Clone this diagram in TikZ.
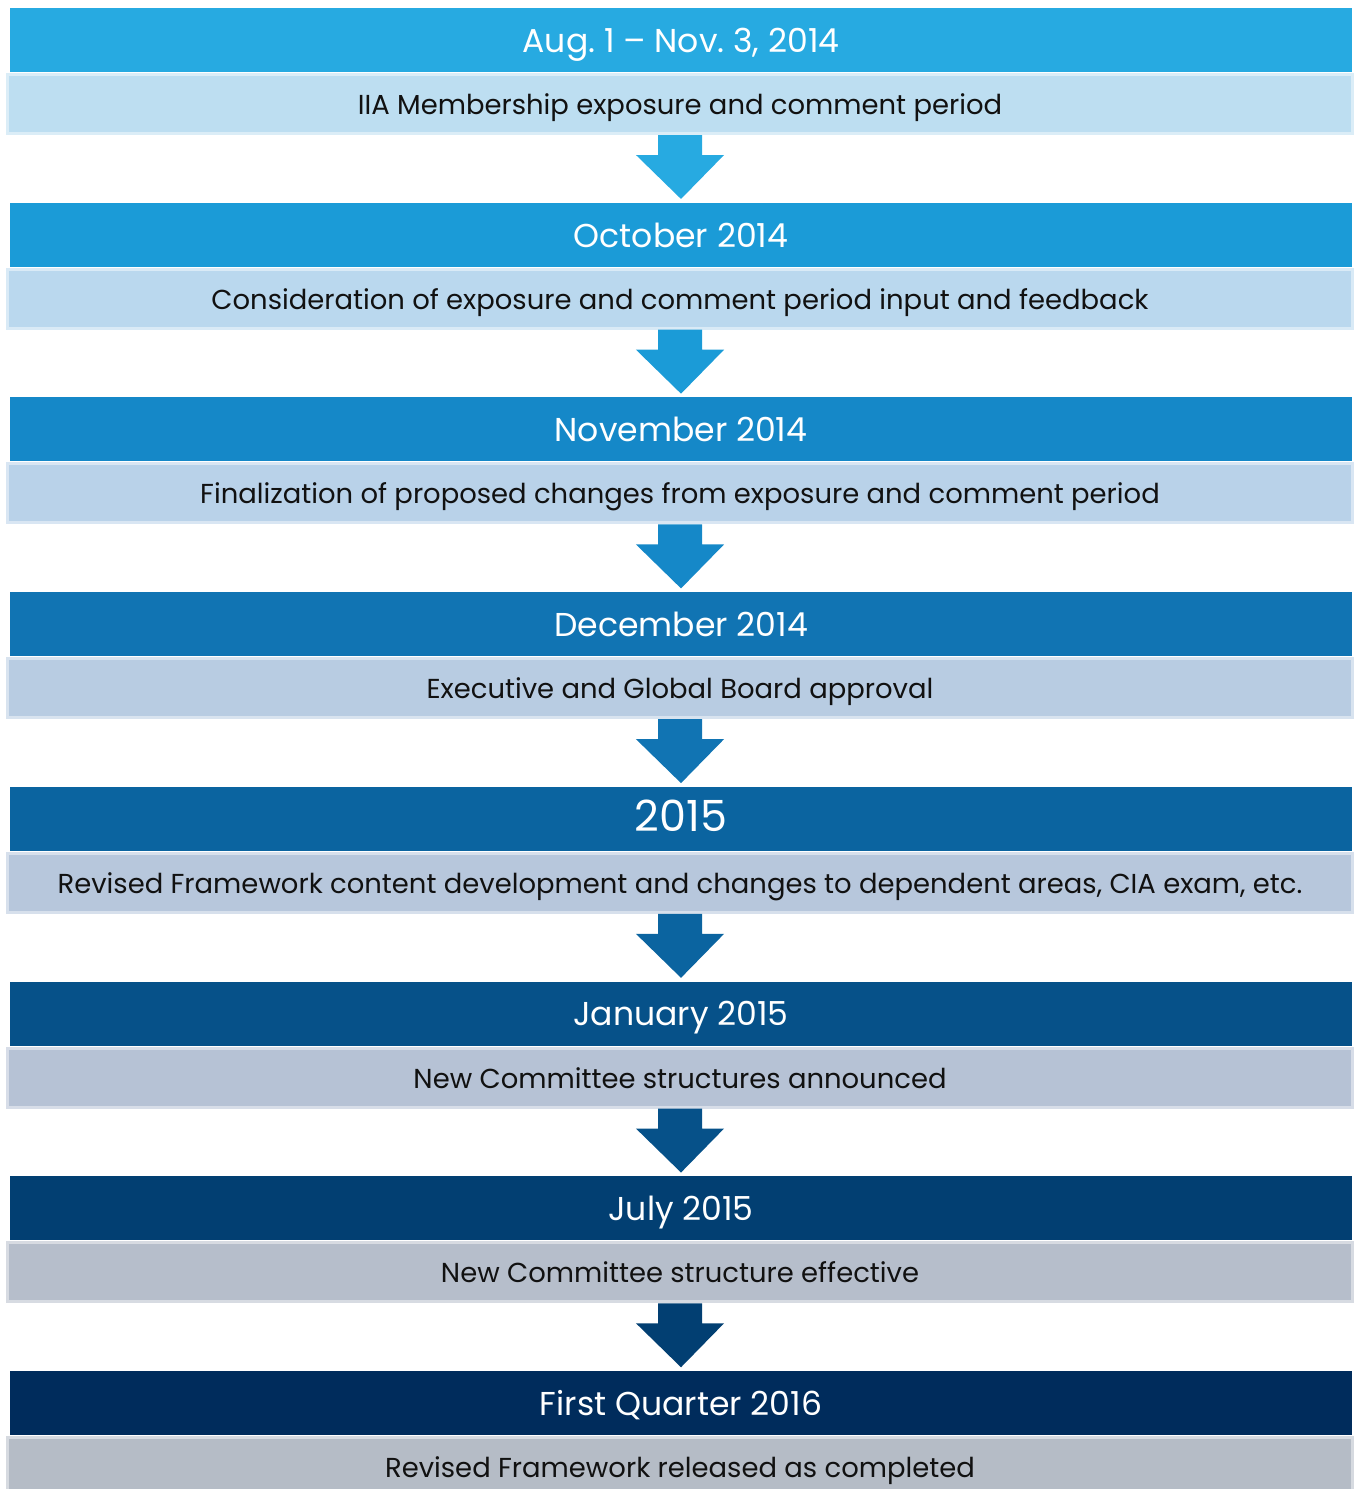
\documentclass[tikz,border=0pt]{standalone}
\usepackage{fontspec}
\setmainfont{Poppins}
\usetikzlibrary{positioning}

\definecolor{hd1}{HTML}{27AAE1}
\definecolor{hd2}{HTML}{1B9BD7}
\definecolor{hd3}{HTML}{1588C8}
\definecolor{hd4}{HTML}{1174B3}
\definecolor{hd5}{HTML}{0B64A0}
\definecolor{hd6}{HTML}{065189}
\definecolor{hd7}{HTML}{023F72}
\definecolor{hd8}{HTML}{002C5C}
\definecolor{bd1}{HTML}{BDDEF1}
\definecolor{bd2}{HTML}{BAD8EE}
\definecolor{bd3}{HTML}{B9D2E9}
\definecolor{bd4}{HTML}{B8CCE2}
\definecolor{bd5}{HTML}{B7C7DC}
\definecolor{bd6}{HTML}{B6C2D5}
\definecolor{bd7}{HTML}{B6BECB}
\definecolor{bd8}{HTML}{B5BCC6}
\definecolor{bodytext}{HTML}{111111}

\begin{document}
\begin{tikzpicture}[x=0.01cm,y=-0.01cm,
  headbox/.style={fill=hd#1,minimum width=13.42cm,minimum height=0.64cm,inner sep=0pt,
    text=white,text height=0.7em,text depth=0pt,font=\fontsize{9.4}{11}\selectfont},
  bodybox/.style={fill=bd#1,draw=bd#1!55!white,line width=0.03cm,minimum width=13.44cm,
    minimum height=0.59cm,inner sep=0pt,text=bodytext,text height=0.6em,text depth=0pt,
    font=\fontsize{7.8}{9}\selectfont}]
\useasboundingbox (0,0) rectangle (1354,1489);

% stages
\foreach \i/\dt/\ds in {
  1/{Aug.\ 1 -- Nov.\ 3, 2014}/{IIA Membership exposure and comment period},
  2/{October 2014}/{Consideration of exposure and comment period input and feedback},
  3/{November 2014}/{Finalization of proposed changes from exposure and comment period},
  4/{December 2014}/{Executive and Global Board approval},
  5/{\fontsize{12.2}{14}\selectfont 2015}/{Revised Framework content development and changes to dependent areas, CIA exam, etc.},
  6/{January 2015}/{New Committee structures announced},
  7/{July 2015}/{New Committee structure effective},
  8/{First Quarter 2016}/{Revised Framework released as completed}}
{
  \node[headbox=\i] (head\i) at (681,{40+194.71*(\i-1)}) {\dt};
  \node[bodybox=\i] (body\i) at (680,{104+194.71*(\i-1)}) {\ds};
}

% block arrows
\foreach \i [evaluate=\i as \j using int(\i+1)] in {1,...,7}
  \fill[hd\i] ([xshift=-0.22cm]body\i.south) -- ([xshift=-0.22cm,yshift=-0.2cm]body\i.south)
    -- ([xshift=-0.44cm,yshift=-0.2cm]body\i.south) -- ([yshift=0.03cm]head\j.north)
    -- ([xshift=0.44cm,yshift=-0.2cm]body\i.south) -- ([xshift=0.22cm,yshift=-0.2cm]body\i.south)
    -- ([xshift=0.22cm]body\i.south) -- cycle;
\end{tikzpicture}
\end{document}
